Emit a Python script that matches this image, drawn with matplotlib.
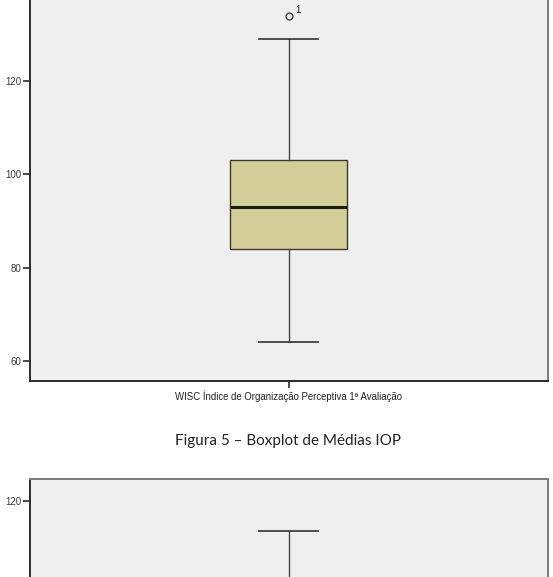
import matplotlib
matplotlib.use("Agg")
import matplotlib.pyplot as plt

# dados
rotulo = "WISC Índice de Organização Perceptiva 1ª Avaliação"
iop1 = dict(whislo=64, q1=84, med=93, q3=103, whishi=129, fliers=[134])
outlier_caso = ["1"]
# segundo grafico (so o topo aparece)
iop2 = dict(whislo=68, q1=84, med=92, q3=100, whishi=113.6, fliers=[])
yticks = [60, 80, 100, 120]
yticks2 = [120]
legenda = "Figura 5 – Boxplot de Médias IOP"

plt.rcParams['font.family'] = ['Liberation Sans', 'DejaVu Sans']

W, H = 553, 577
fig = plt.figure(figsize=(W / 100, H / 100), dpi=100)
fig.patch.set_facecolor("white")

pxu = 280 / 60.0  # pixels por unidade


def estilo(ax, ticks):
    ax.set_facecolor("#efefef")
    ax.spines["top"].set_visible(False)
    for s in ["left", "bottom"]:
        ax.spines[s].set_color("#2b2b2b")
        ax.spines[s].set_linewidth(1.4)
    ax.spines["right"].set_color("#7a7a7a")
    ax.spines["right"].set_linewidth(1.4)
    ax.set_yticks(ticks)
    ax.tick_params(axis="y", direction="out", length=5, width=1.2, color="#2b2b2b",
                   labelsize=7, labelcolor="#3a3a3a", pad=1)
    ax.set_xlim(0.5, 1.5)


def desenha(ax, stats):
    stats = dict(stats)
    stats["label"] = ""
    ax.bxp([stats], positions=[1], widths=0.226, patch_artist=True,
           boxprops=dict(facecolor="#d3ce98", edgecolor="#3a3a2a", linewidth=1.0),
           medianprops=dict(color="#1e1e10", linewidth=2.2),
           whiskerprops=dict(color="#444444", linewidth=1.0),
           capprops=dict(color="#333333", linewidth=1.2),
           capwidths=0.115,
           flierprops=dict(marker="o", markersize=5, markerfacecolor="none",
                           markeredgecolor="#444444", markeredgewidth=1.0))


# grafico 1
ax1 = fig.add_axes([29.5 / W, (H - 381) / H, 518 / W, 381 / H])
estilo(ax1, yticks)
desenha(ax1, iop1)
ax1.set_ylim(60 - 20 / pxu, 120 + 81 / pxu)
ax1.set_xticks([1])
ax1.set_xticklabels([rotulo])
ax1.tick_params(axis="x", direction="out", length=5, width=1.2, color="#2b2b2b",
                labelsize=6.9, labelcolor="#222222", pad=2)
for v, c in zip(iop1["fliers"], outlier_caso):
    ax1.annotate(c, (1, v), xytext=(5, 2), textcoords="offset points",
                 fontsize=7, color="#222222")

# legenda da figura
fig.text(288 / W, 1 - 441 / H, legenda, ha="center", va="center",
         fontsize=11, family=["Lato", "DejaVu Sans"], color="#222222")

# grafico 2 (cortado)
h2 = 298
ax2 = fig.add_axes([29.5 / W, (H - 479 - h2) / H, 518 / W, h2 / H])
estilo(ax2, yticks2)
desenha(ax2, iop2)
ytop = 120 + 22 / pxu
ax2.set_ylim(ytop - h2 / pxu, ytop)
ax2.spines["top"].set_visible(True)
ax2.spines["top"].set_color("#7a7a7a")
ax2.spines["top"].set_linewidth(1.4)
ax2.set_xticks([])

fig.savefig("out.png", dpi=100)
